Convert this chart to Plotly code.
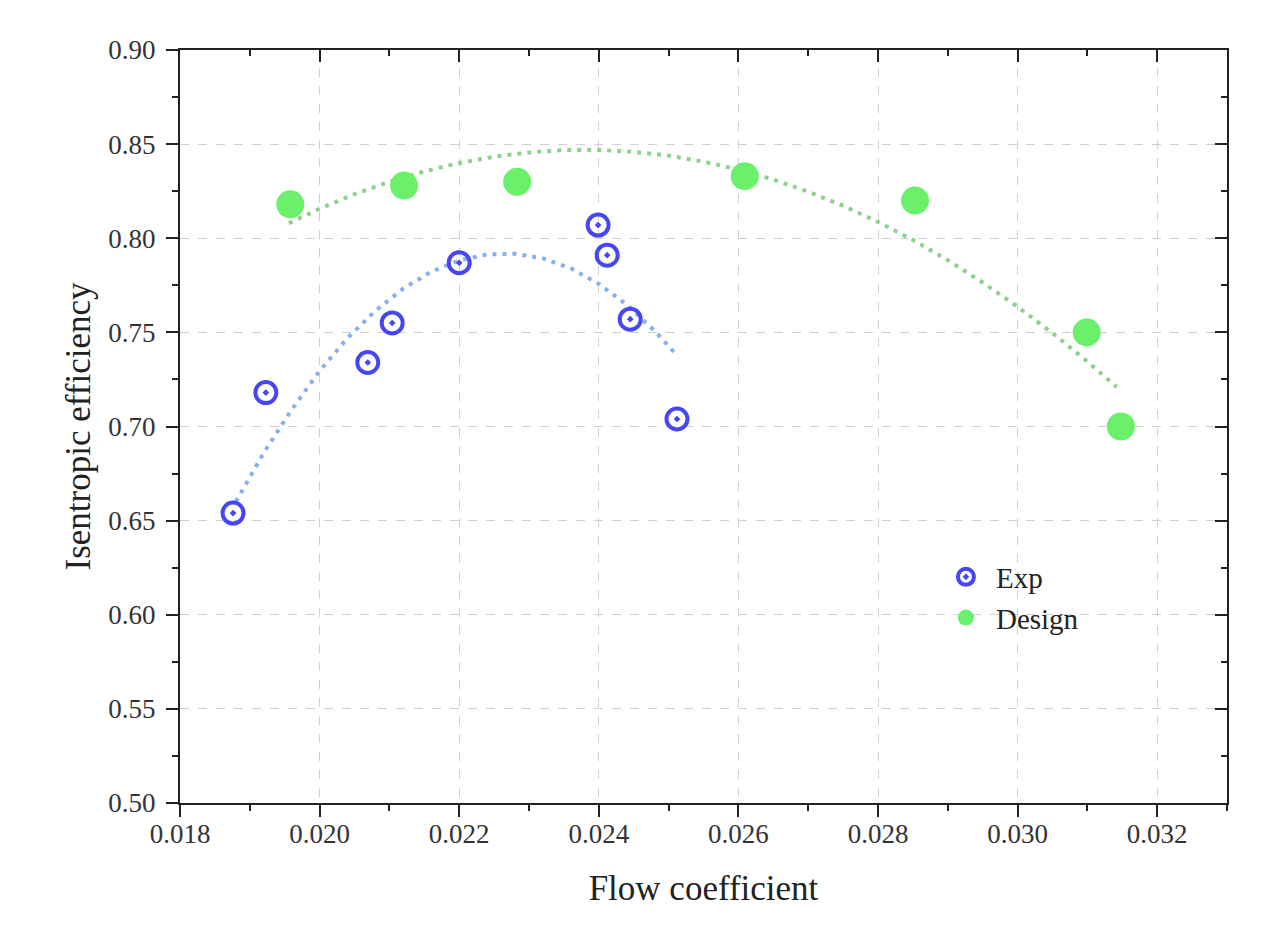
import plotly.graph_objects as go

# Experimental data
exp_x = [0.01876, 0.01923, 0.02069, 0.02104, 0.02200, 0.02399, 0.02412, 0.02445, 0.02512]
exp_y = [0.654, 0.718, 0.734, 0.755, 0.787, 0.807, 0.791, 0.757, 0.704]

# Design data
des_x = [0.01958, 0.02121, 0.02283, 0.02609, 0.02853, 0.03099, 0.03148]
des_y = [0.818, 0.828, 0.830, 0.833, 0.820, 0.750, 0.700]

# Fit curves
exp_fit_x = [0.0188, 0.0192, 0.0196, 0.0200, 0.0204, 0.0208, 0.0212, 0.0216, 0.0220,
             0.0224, 0.0228, 0.0232, 0.0236, 0.0240, 0.0244, 0.0248, 0.0251]
exp_fit_y = [0.660, 0.686, 0.709, 0.7295, 0.747, 0.7615, 0.7733, 0.7822, 0.7882,
             0.7914, 0.7918, 0.7893, 0.784, 0.7758, 0.7647, 0.7508, 0.7386]

des_fit_x = [0.01956, 0.0200, 0.0205, 0.0210, 0.0215, 0.0220, 0.0225, 0.0230, 0.0235,
             0.0240, 0.0245, 0.0250, 0.0255, 0.0260, 0.0265, 0.0270, 0.0275, 0.0280,
             0.0285, 0.0290, 0.0295, 0.0300, 0.0305, 0.0310, 0.03142]
des_fit_y = [0.808, 0.8157, 0.8234, 0.830, 0.8355, 0.840, 0.8433, 0.8456, 0.8468,
             0.8469, 0.8459, 0.8439, 0.8407, 0.8365, 0.8312, 0.8248, 0.8173, 0.8087,
             0.7991, 0.7883, 0.7765, 0.7636, 0.7496, 0.7345, 0.721]

x_ticks = [0.018, 0.020, 0.022, 0.024, 0.026, 0.028, 0.030, 0.032]
x_tick_labels = ["0.018", "0.020", "0.022", "0.024", "0.026", "0.028", "0.030", "0.032"]
y_ticks = [0.50, 0.55, 0.60, 0.65, 0.70, 0.75, 0.80, 0.85, 0.90]
y_tick_labels = ["0.50", "0.55", "0.60", "0.65", "0.70", "0.75", "0.80", "0.85", "0.90"]

FONT = "Liberation Serif, Times New Roman, serif"
xr = [0.018, 0.033]
yr = [0.50, 0.90]
AX = "#222222"

fig = go.Figure()

fig.add_trace(go.Scatter(
    x=exp_fit_x, y=exp_fit_y, mode="lines", showlegend=False, hoverinfo="skip",
    line=dict(color="#86b0f0", width=4, dash="4px,6px")))
fig.add_trace(go.Scatter(
    x=des_fit_x, y=des_fit_y, mode="lines", showlegend=False, hoverinfo="skip",
    line=dict(color="#8ed08e", width=4, dash="4px,6px")))

fig.add_trace(go.Scatter(
    x=exp_x, y=exp_y, mode="markers", name="Exp", legendgroup="a",
    marker=dict(symbol="circle-open-dot", size=21, color="#4646f2",
                line=dict(width=4, color="#4646f2"))))
fig.add_trace(go.Scatter(
    x=des_x, y=des_y, mode="markers", name="Design", legendgroup="b",
    marker=dict(symbol="circle", size=28, color="#6af06a",
                line=dict(width=0))))

# dummy trace for mirrored inside-tick axes
fig.add_trace(go.Scatter(x=[None], y=[None], xaxis="x2", yaxis="y2",
                         showlegend=False, hoverinfo="skip"))

fig.update_layout(
    width=1266, height=952,
    margin=dict(l=172, r=47, t=42, b=157),
    paper_bgcolor="white", plot_bgcolor="white",
    font=dict(family=FONT, color=AX),
    xaxis=dict(
        range=xr, tickvals=x_ticks, ticktext=x_tick_labels,
        tickfont=dict(size=27, family=FONT, color="#333333"),
        ticks="outside", ticklen=12, tickwidth=2, tickcolor=AX,
        ticklabelstandoff=-6,
        minor=dict(dtick=0.001, ticks="outside", ticklen=6, tickwidth=2,
                   tickcolor=AX, showgrid=False),
        showline=True, linecolor=AX, linewidth=2,
        showgrid=True, gridcolor="#d0d0d0", gridwidth=1, griddash="dash",
        zeroline=False,
        title=dict(text="Flow coefficient", font=dict(size=35, family=FONT, color=AX),
                   standoff=27),
    ),
    yaxis=dict(
        range=yr, tickvals=y_ticks, ticktext=y_tick_labels,
        tickfont=dict(size=27, family=FONT, color="#333333"),
        ticks="outside", ticklen=12, tickwidth=2, tickcolor=AX,
        ticklabelstandoff=5,
        minor=dict(dtick=0.025, ticks="outside", ticklen=6, tickwidth=2,
                   tickcolor=AX, showgrid=False),
        showline=True, linecolor=AX, linewidth=2,
        showgrid=True, gridcolor="#d0d0d0", gridwidth=1, griddash="dash",
        zeroline=False,
        title=dict(text="Isentropic efficiency", font=dict(size=35, family=FONT, color=AX),
                   standoff=7),
    ),
    xaxis2=dict(
        overlaying="x", side="top", range=xr, tickvals=x_ticks, showticklabels=False,
        ticks="inside", ticklen=12, tickwidth=2, tickcolor=AX,
        minor=dict(dtick=0.001, ticks="inside", ticklen=6, tickwidth=2, tickcolor=AX),
        showline=True, linecolor=AX, linewidth=2, showgrid=False, zeroline=False,
    ),
    yaxis2=dict(
        overlaying="y", side="right", range=yr, tickvals=y_ticks, showticklabels=False,
        ticks="inside", ticklen=12, tickwidth=2, tickcolor=AX,
        minor=dict(dtick=0.025, ticks="inside", ticklen=6, tickwidth=2, tickcolor=AX),
        showline=True, linecolor=AX, linewidth=2, showgrid=False, zeroline=False,
    ),
    legend=dict(
        x=0.722, y=0.334, xanchor="left", yanchor="top",
        bgcolor="rgba(0,0,0,0)", borderwidth=0,
        font=dict(size=29, family=FONT, color=AX),
        traceorder="grouped", tracegroupgap=0, itemwidth=50,
    ),
)

fig.write_html("out.html")
